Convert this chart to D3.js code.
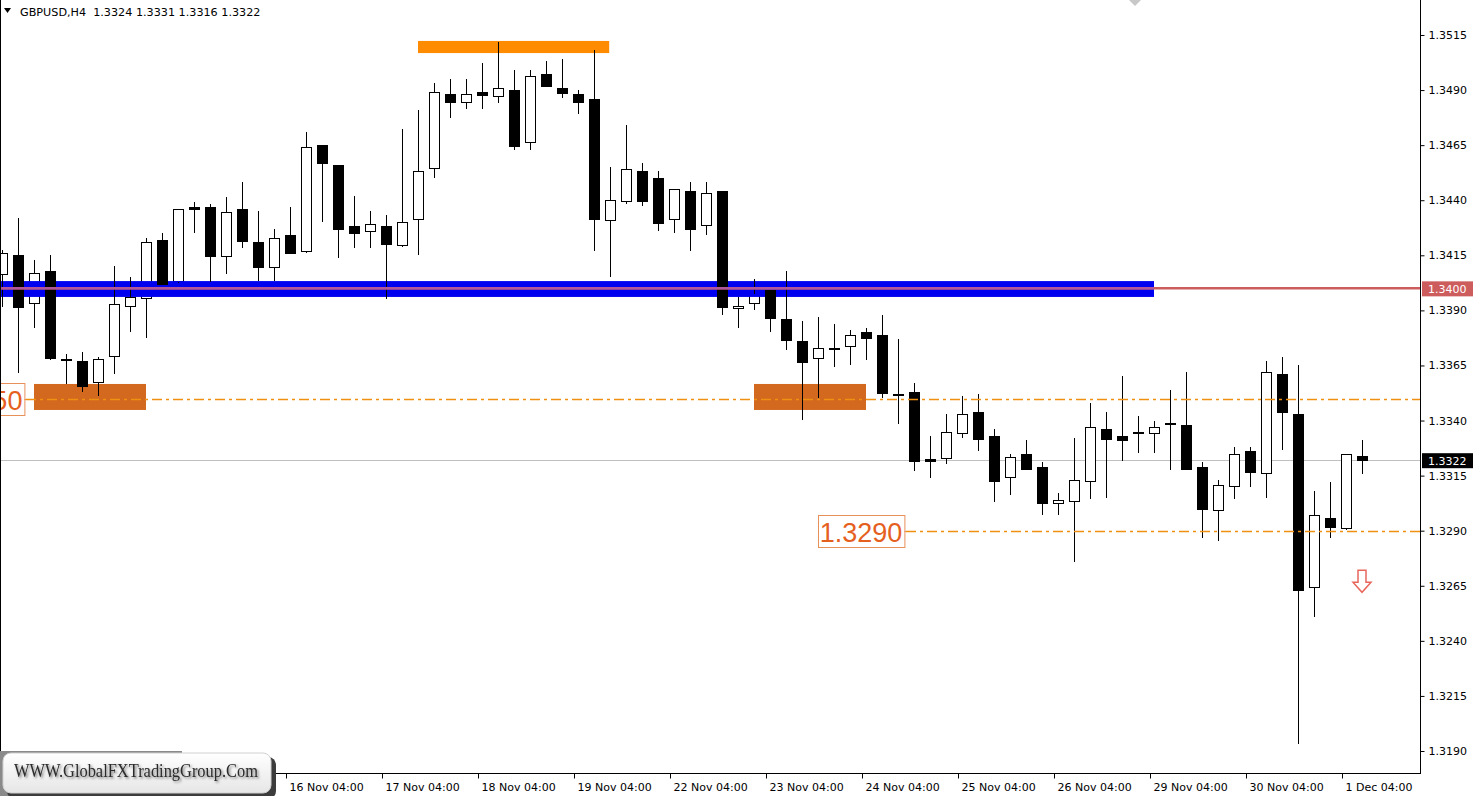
<!DOCTYPE html>
<html><head><meta charset="utf-8">
<script src="https://cdn.jsdelivr.net/npm/d3@7"></script>
<style>body{margin:0;background:#fff;overflow:hidden}svg{display:block}</style>
</head><body><svg id="c" width="1478" height="796"></svg>
<script>
// ---- data (GBPUSD H4) ----
const openP = [
1.34061,1.34151,1.33929,1.34079,1.33679,1.3367,1.3357,1.33688,1.33915,1.33952,
1.34219,1.34029,1.34369,1.34369,1.34142,1.3436,1.3421,1.34092,1.34242,1.34165,
1.34651,1.3456,1.34283,1.34256,1.34283,1.34192,1.3431,1.34542,1.34882,1.34841,
1.34891,1.34869,1.349,1.3466,1.34973,1.34909,1.34882,1.3486,1.34306,1.34392,
1.34533,1.34501,1.3431,1.34442,1.34283,1.34442,1.33906,1.33929,1.33993,1.33861,
1.33761,1.33679,1.3372,1.33734,1.33802,1.33788,1.3352,1.3353,1.33225,1.33225,
1.33339,1.33439,1.3333,1.33139,1.33248,1.33189,1.33021,1.3303,1.33121,1.33362,
1.3333,1.33348,1.33339,1.3338,1.3338,1.33189,1.32989,1.33098,1.33262,1.33157,
1.33611,1.3343,1.3264,1.32958,1.32908,1.3324];
const highP = [
1.34174,1.34319,1.34129,1.34151,1.33702,1.33711,1.33688,1.34101,1.34052,1.34229,
1.34251,1.3436,1.34392,1.34383,1.34415,1.34483,1.34351,1.34269,1.34369,1.3471,
1.34651,1.3456,1.34419,1.34351,1.34333,1.34723,1.3481,1.34932,1.3495,1.3495,
1.35023,1.35118,1.34991,1.34991,1.35032,1.35041,1.349,1.35082,1.34551,1.34741,
1.34569,1.34533,1.34451,1.34483,1.34483,1.34442,1.33961,1.34042,1.33993,1.34079,
1.33852,1.3387,1.33838,1.33811,1.3382,1.33879,1.3377,1.3357,1.3333,1.3343,
1.33511,1.3352,1.33362,1.33248,1.33312,1.33212,1.33071,1.33321,1.3348,1.33439,
1.33602,1.3342,1.33398,1.33539,1.3362,1.33212,1.3313,1.3328,1.3328,1.3367,
1.33688,1.33652,1.3308,1.33121,1.33248,1.3331];
const lowP = [
1.3392,1.3362,1.33825,1.33679,1.3357,1.33534,1.33516,1.33616,1.33806,1.33779,
1.3402,1.34029,1.34256,1.34033,1.3407,1.34188,1.34038,1.34038,1.3416,1.34165,
1.34306,1.34142,1.34188,1.34188,1.33956,1.34192,1.34156,1.34505,1.34778,1.34819,
1.34819,1.34846,1.34633,1.34633,1.34919,1.34869,1.34796,1.34174,1.34056,1.34387,
1.34378,1.34265,1.34256,1.34174,1.34247,1.33884,1.33825,1.33906,1.33806,1.33725,
1.33407,1.33507,1.33648,1.33657,1.33679,1.33507,1.33389,1.33175,1.33144,1.33207,
1.33325,1.33266,1.33035,1.33067,1.3318,1.32976,1.32976,1.32762,1.33048,1.33053,
1.33221,1.33257,1.33257,1.3318,1.3318,1.32871,1.32858,1.33048,1.33103,1.33053,
1.33271,1.31936,1.32513,1.32871,1.32908,1.3316];
const closeP = [
1.3416,1.33915,1.3407,1.33684,1.3368,1.33557,1.33679,1.33929,1.33961,1.3421,
1.3402,1.3436,1.3436,1.34147,1.34347,1.34215,1.34097,1.34229,1.3416,1.34642,
1.34569,1.34269,1.34251,1.34292,1.34201,1.34301,1.34533,1.34891,1.34846,1.34882,
1.34878,1.34909,1.34646,1.34964,1.34919,1.34887,1.34846,1.34315,1.34401,1.34542,
1.34397,1.34297,1.34451,1.34269,1.34433,1.33915,1.3392,1.33974,1.33865,1.33766,
1.33666,1.33729,1.33729,1.33788,1.33775,1.33525,1.3352,1.33216,1.33216,1.33348,
1.3343,1.33316,1.33126,1.33234,1.3318,1.33026,1.33039,1.3313,1.33371,1.33316,
1.33312,1.33348,1.33371,1.33389,1.3318,1.32998,1.33107,1.33248,1.33166,1.3362,
1.33439,1.32631,1.32971,1.32917,1.33248,1.3322];

const priceTicks = [1.3515,1.3490,1.3465,1.3440,1.3415,1.3390,1.3365,1.3340,1.3315,1.3290,1.3265,1.3240,1.3215,1.3190];
const timeTickIdx = [18,24,30,36,42,48,54,60,66,72,78,84];
const timeTickLabels = ["16 Nov 04:00","17 Nov 04:00","18 Nov 04:00","19 Nov 04:00","22 Nov 04:00","23 Nov 04:00","24 Nov 04:00","25 Nov 04:00","26 Nov 04:00","29 Nov 04:00","30 Nov 04:00","1 Dec 04:00"];

const symbolTitle = "GBPUSD,H4";
const lastOHLC = [1.3324, 1.3331, 1.3316, 1.3322];
const bidPrice = 1.3322;
const redLevel = 1.3400;
const blueZone = {from: -0.2, to: 72, hi: 1.34033, lo: 1.33961};
const topZone = {from: 26, to: 37.95, hi: 1.35123, lo: 1.35068};
const supportZones = [{from: 2, to: 9, hi: 1.33566, lo: 1.33448}, {from: 47, to: 54, hi: 1.33566, lo: 1.33448}];
const dashLevels = [{price: 1.3350, label: "1.3350", labelEnd: 1.4, lineFrom: 1.5}, {price: 1.3290, label: "1.3290", labelStart: 51, labelEnd: 56.4, lineFrom: 56.5}];
const arrowAt = {idx: 85, price: 1.3272};
const watermark = "WWW.GlobalFXTradingGroup.Com";

// ---- scales ----
const W = 1478, H = 796, plotR = 1420, plotB = 773;
const x = d3.scaleLinear().domain([0, 85]).range([2, 1362]);
const y = d3.scaleLinear().domain([1.3190, 1.3515]).range([751, 35]);
const candles = openP.map((o, i) => ({i, o, h: highP[i], l: lowP[i], c: closeP[i]}));

const svg = d3.select("#c");
const FONT = "'DejaVu Sans', Tahoma, sans-serif";
svg.append("rect").attr("width", W).attr("height", H).attr("fill", "#fff");
const defs = svg.append("defs");
defs.append("clipPath").attr("id", "plot").append("rect").attr("x", 1).attr("y", 0).attr("width", plotR - 1).attr("height", plotB);
const g = svg.append("g").attr("clip-path", "url(#plot)");

// bid line
g.append("line").attr("x1", 0).attr("x2", plotR).attr("y1", Math.round(y(bidPrice)) + 0.5).attr("y2", Math.round(y(bidPrice)) + 0.5)
  .attr("stroke", "#c0c0c0").attr("stroke-width", 1);

// support boxes
g.selectAll(".sz").data(supportZones).join("rect")
  .attr("x", d => x(d.from)).attr("width", d => x(d.to) - x(d.from))
  .attr("y", d => y(d.hi)).attr("height", d => y(d.lo) - y(d.hi)).attr("fill", "#d2691e");
// top box
g.append("rect").attr("x", x(topZone.from)).attr("width", x(topZone.to) - x(topZone.from))
  .attr("y", y(topZone.hi)).attr("height", y(topZone.lo) - y(topZone.hi)).attr("fill", "#ff8c00");

const isUp = d => d.c >= d.o;
const bodyTop = d => Math.round(y(Math.max(d.o, d.c)));
const bodyBot = d => Math.round(y(Math.min(d.o, d.c)));
const cx = d => Math.round(x(d.i));

// white bodies
g.selectAll(".wb").data(candles.filter(isUp)).join("rect")
  .attr("x", d => cx(d) - 5 + 0.5).attr("width", 10)
  .attr("y", d => bodyTop(d) + 0.5).attr("height", d => Math.max(0, bodyBot(d) - bodyTop(d) - 1) || 1)
  .attr("fill", "#fff").attr("stroke", "#000").attr("stroke-width", 1);

// blue zone
g.append("rect").attr("x", x(blueZone.from)).attr("width", x(blueZone.to) - x(blueZone.from))
  .attr("y", y(blueZone.hi)).attr("height", y(blueZone.lo) - y(blueZone.hi)).attr("fill", "#0000f0");

// wicks (upper and lower separately)
const wk = g.append("g").attr("stroke", "#000").attr("stroke-width", 1);
candles.forEach(d => {
  const X = cx(d) + 0.5;
  wk.append("line").attr("x1", X).attr("x2", X).attr("y1", Math.round(y(d.h))).attr("y2", bodyTop(d));
  wk.append("line").attr("x1", X).attr("x2", X).attr("y1", bodyBot(d)).attr("y2", Math.round(y(d.l)) + 1);
});
// black bodies
g.selectAll(".bb").data(candles.filter(d => !isUp(d))).join("rect")
  .attr("x", d => cx(d) - 5).attr("width", 11)
  .attr("y", d => bodyTop(d)).attr("height", d => Math.max(2, bodyBot(d) - bodyTop(d) + 1))
  .attr("fill", "#000");

// 1.3400 level line
const ry = y(redLevel);
g.append("line").attr("x1", 0).attr("x2", plotR).attr("y1", ry).attr("y2", ry).attr("stroke", "#cd5c5c").attr("stroke-width", 2.5);
g.append("line").attr("x1", 0).attr("x2", x(blueZone.to)).attr("y1", ry).attr("y2", ry).attr("stroke", "#b0579c").attr("stroke-width", 2.5);

// dash-dot levels & labels
dashLevels.forEach(d => {
  const yy = Math.round(y(d.price)) + 0.5;
  g.append("line").attr("x1", x(d.lineFrom)).attr("x2", plotR).attr("y1", yy).attr("y2", yy)
    .attr("stroke", "#ee9010").attr("stroke-width", 1.6).attr("stroke-dasharray", "10,4,3,4");
  const x1 = d.labelStart !== undefined ? x(d.labelStart) : -70;
  const x2 = x(d.labelEnd);
  g.append("rect").attr("x", x1 + 0.5).attr("y", yy - 16).attr("width", x2 - x1).attr("height", 32)
    .attr("fill", "#fff").attr("stroke", "#e8905a").attr("stroke-width", 1);
  g.append("text").attr("x", x2 - 2).attr("y", yy + 10).attr("text-anchor", "end")
    .attr("font-family", "'Liberation Sans', Arial, sans-serif").attr("font-size", 27)
    .attr("fill", "#e5601e").text(d.label);
  g.append("line").attr("x1", x2).attr("x2", x(d.lineFrom)).attr("y1", yy).attr("y2", yy).attr("stroke", "#e8905a");
});

// arrow
{
  const ax = x(arrowAt.idx), at = y(arrowAt.price);
  const pts = [[ax-4,at],[ax+4,at],[ax+4,at+12],[ax+9,at+12],[ax,at+22],[ax-9,at+12],[ax-4,at+12]];
  g.append("polygon").attr("points", pts.map(p => p.join(",")).join(" "))
    .attr("fill", "#fff").attr("stroke", "#e8675c").attr("stroke-width", 1.5);
}

// frame
svg.append("line").attr("x1", 0.5).attr("x2", 0.5).attr("y1", 0).attr("y2", plotB).attr("stroke", "#000");
svg.append("line").attr("x1", plotR + 0.5).attr("x2", plotR + 0.5).attr("y1", 0).attr("y2", plotB + 1).attr("stroke", "#000");
svg.append("line").attr("x1", 0).attr("x2", plotR + 1).attr("y1", plotB + 0.5).attr("y2", plotB + 0.5).attr("stroke", "#000");

// price axis
const ya = svg.append("g").attr("transform", `translate(${plotR + 0.5},0)`)
  .call(d3.axisRight(y).tickValues(priceTicks).tickSize(4).tickPadding(4).tickFormat(d3.format(".4f")));
ya.select(".domain").remove();
ya.selectAll("text").attr("font-family", FONT).attr("font-size", 11).attr("fill", "#000");
ya.selectAll("line").attr("stroke", "#000");

// price tags
function tag(p, bg, txt) {
  const yy = y(p);
  svg.append("rect").attr("x", plotR + 2).attr("y", yy - 7).attr("width", 51).attr("height", 15).attr("fill", bg);
  svg.append("text").attr("x", plotR + 8).attr("y", yy + 4.5).attr("font-family", FONT).attr("font-size", 11)
    .attr("fill", "#fff").text(txt);
}
tag(redLevel, "#cd5c5c", d3.format(".4f")(redLevel));
tag(bidPrice, "#000", d3.format(".4f")(bidPrice));

// time axis
const xa = svg.append("g").attr("transform", `translate(-4,${plotB + 0.5})`)
  .call(d3.axisBottom(x).tickValues(timeTickIdx).tickSize(5).tickPadding(5).tickFormat((d, i) => timeTickLabels[i]));
xa.select(".domain").remove();
xa.selectAll("text").attr("font-family", FONT).attr("font-size", 11).attr("fill", "#000").attr("text-anchor", "start").attr("dx", 3);
xa.selectAll("line").attr("stroke", "#000");

// header
svg.append("polygon").attr("points", "4,8 11,8 7.5,13").attr("fill", "#000");
svg.append("text").attr("x", 20).attr("y", 15.5).attr("font-family", FONT).attr("font-size", 11.2).attr("fill", "#000")
  .attr("xml:space", "preserve").text(symbolTitle + "  " + lastOHLC.map(d3.format(".4f")).join(" "));
// chart shift marker
svg.append("polygon").attr("points", "1129,0 1141,0 1135,6").attr("fill", "#c8c8c8");

// watermark
const grad = defs.append("linearGradient").attr("id", "wg").attr("x1", 0).attr("y1", 0).attr("x2", 0).attr("y2", 1);
grad.append("stop").attr("offset", 0).attr("stop-color", "#ffffff");
grad.append("stop").attr("offset", 1).attr("stop-color", "#e6e6e6");
const f = defs.append("filter").attr("id", "ts").attr("x", "-5%").attr("y", "-30%").attr("width", "110%").attr("height", "160%");
f.append("feDropShadow").attr("dx", 1.5).attr("dy", 1.5).attr("stdDeviation", 1).attr("flood-color", "#000").attr("flood-opacity", 0.5);
svg.append("rect").attr("x", 0).attr("y", 751).attr("width", 182).attr("height", 45).attr("fill", "#8a8a8a");
svg.append("rect").attr("x", 7).attr("y", 757).attr("width", 269).attr("height", 42).attr("rx", 8).attr("fill", "#3c3c3c");
svg.append("rect").attr("x", 3).attr("y", 753).attr("width", 268).attr("height", 40).attr("rx", 8)
  .attr("fill", "url(#wg)").attr("stroke", "#d0d0d0");
svg.append("text").attr("x", 14).attr("y", 777).attr("font-family", "'Liberation Serif', 'Times New Roman', serif")
  .attr("font-size", 19).attr("fill", "#2b2b2b").attr("textLength", 244).attr("lengthAdjust", "spacingAndGlyphs")
  .attr("filter", "url(#ts)").text(watermark);
</script></body></html>
